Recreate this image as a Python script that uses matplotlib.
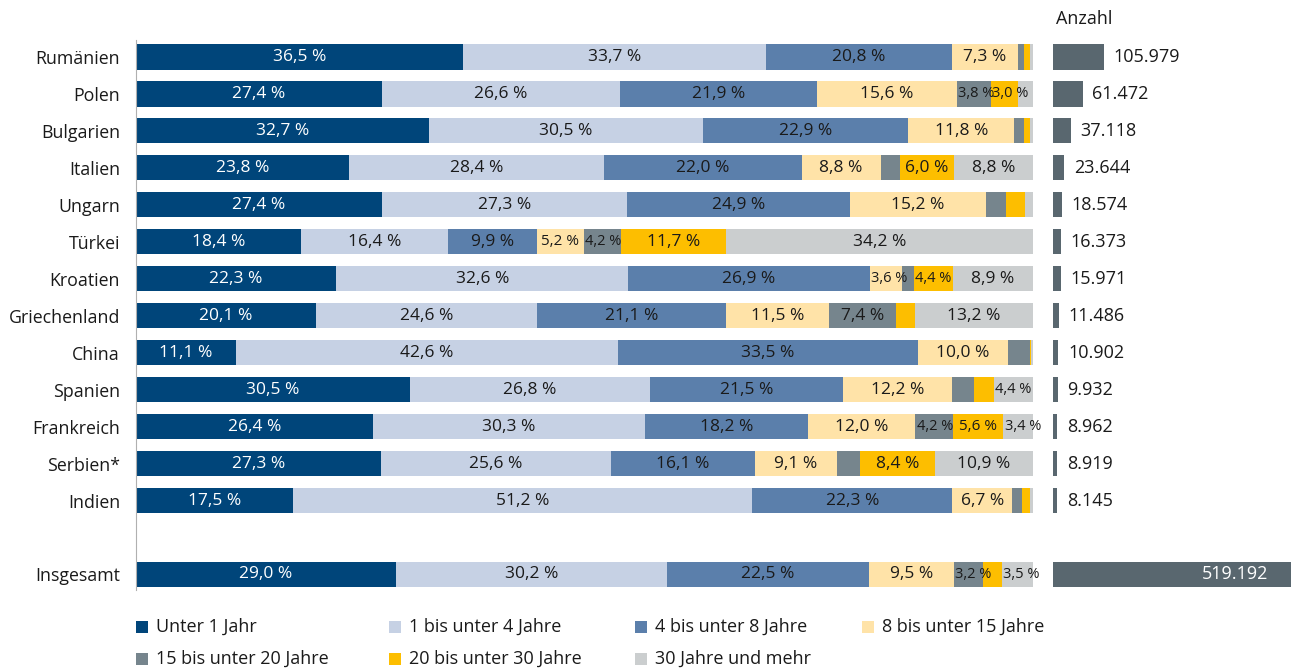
import matplotlib
matplotlib.use("Agg")
import matplotlib.pyplot as plt
from matplotlib.patches import Rectangle

plt.rcParams['font.family'] = ['Open Sans', 'DejaVu Sans']

# Countries (top to bottom) plus the overall total
countries = ["Rumänien", "Polen", "Bulgarien", "Italien", "Ungarn", "Türkei",
             "Kroatien", "Griechenland", "China", "Spanien", "Frankreich",
             "Serbien*", "Indien", "Insgesamt"]

# Share of residence duration groups in percent
unter_1 = [36.5, 27.4, 32.7, 23.8, 27.4, 18.4, 22.3, 20.1, 11.1, 30.5, 26.4, 27.3, 17.5, 29.0]
j1_4 = [33.7, 26.6, 30.5, 28.4, 27.3, 16.4, 32.6, 24.6, 42.6, 26.8, 30.3, 25.6, 51.2, 30.2]
j4_8 = [20.8, 21.9, 22.9, 22.0, 24.9, 9.9, 26.9, 21.1, 33.5, 21.5, 18.2, 16.1, 22.3, 22.5]
j8_15 = [7.3, 15.6, 11.8, 8.8, 15.2, 5.2, 3.6, 11.5, 10.0, 12.2, 12.0, 9.1, 6.7, 9.5]
j15_20 = [0.7, 3.8, 1.1, 2.2, 2.2, 4.2, 1.3, 7.4, 2.5, 2.4, 4.2, 2.6, 1.1, 3.2]
j20_30 = [0.7, 3.0, 0.7, 6.0, 2.1, 11.7, 4.4, 2.1, 0.1, 2.2, 5.6, 8.4, 0.9, 2.1]
j30_plus = [0.3, 1.7, 0.3, 8.8, 0.9, 34.2, 8.9, 13.2, 0.2, 4.4, 3.4, 10.9, 0.3, 3.5]

# Number of persons
anzahl = [105979, 61472, 37118, 23644, 18574, 16373, 15971, 11486, 10902,
          9932, 8962, 8919, 8145, 519192]

series_names = ["Unter 1 Jahr", "1 bis unter 4 Jahre", "4 bis unter 8 Jahre",
                "8 bis unter 15 Jahre", "15 bis unter 20 Jahre",
                "20 bis unter 30 Jahre", "30 Jahre und mehr"]
series = [unter_1, j1_4, j4_8, j8_15, j15_20, j20_30, j30_plus]
colors = ["#00457A", "#C6D1E4", "#5B7FAB", "#FFE3A8", "#76858D", "#FDBE00", "#CBCECF"]
text_colors = ["white", "#1a1a1a", "#1a1a1a", "#1a1a1a", "#1a1a1a", "#1a1a1a", "#1a1a1a"]
count_color = "#59676F"

W, H = 1291, 670
fig = plt.figure(figsize=(W / 100, H / 100), dpi=100)

# row positions: gap before the total row
ypos = list(range(13)) + [14]

def fx(px):
    return px / W

def fy(px):
    return 1 - px / H

top_px, bot_px = 40, 590
ax = fig.add_axes([fx(136), fy(bot_px), fx(1033) - fx(136), fy(top_px) - fy(bot_px)])
ax2 = fig.add_axes([fx(1053), fy(bot_px), fx(1291) - fx(1053), fy(top_px) - fy(bot_px)])

bar_h = 0.68
left = [0.0] * len(countries)
for vals, col, tcol in zip(series, colors, text_colors):
    ax.barh(ypos, vals, left=left, height=bar_h, color=col, linewidth=0)
    for y, l, v in zip(ypos, left, vals):
        if v >= 3.0:
            txt = f"{v:.1f}".replace(".", ",") + " %"
            if v < 4.5:
                # narrow segment: label starts at the segment's left edge
                ax.text(l + 0.15, y, txt, ha="left", va="center", color=tcol,
                        fontsize=10.5)
            else:
                fs = 11 if v < 6 else 12.5
                ax.text(l + v / 2, y, txt, ha="center", va="center",
                        color=tcol, fontsize=fs)
    left = [a + b for a, b in zip(left, vals)]

ax.set_xlim(0, 100)
ax.set_ylim(14.42, -0.46)
ax.set_xticks([])
ax.set_yticks(ypos)
ax.set_yticklabels(countries, fontsize=12.8, color="#1a1a1a")
ax.tick_params(axis="y", length=0, pad=11.5)
for s in ["top", "right", "bottom"]:
    ax.spines[s].set_visible(False)
ax.spines["left"].set_color("#b0b0b0")
ax.spines["left"].set_linewidth(0.8)

# count bars
ax2.barh(ypos, anzahl, height=bar_h, color=count_color, linewidth=0)
xmax = 238 * 105979 / 51
ax2.set_xlim(0, xmax)
ax2.set_ylim(14.42, -0.46)
ax2.axis("off")
for y, n in zip(ypos, anzahl):
    txt = f"{n:,}".replace(",", ".")
    if n > xmax:
        ax2.text(xmax * 0.905, y, txt, ha="right", va="center", color="white",
                 fontsize=13)
    else:
        ax2.annotate(txt, (n, y), xytext=(7, 0), textcoords="offset points",
                     ha="left", va="center", color="#1a1a1a", fontsize=13)

fig.text(fx(1056), fy(19), "Anzahl", ha="left", va="center", fontsize=13,
         color="#1a1a1a")

# legend
leg_x = [136, 389, 635, 862]
leg_y = [627, 659]
sq = 12
for i, (name, col) in enumerate(zip(series_names, colors)):
    r, c = divmod(i, 4)
    x0, y0 = leg_x[c], leg_y[r]
    fig.patches.append(Rectangle((fx(x0), fy(y0 + sq / 2)), sq / W, sq / H,
                                 transform=fig.transFigure, color=col,
                                 linewidth=0))
    fig.text(fx(x0 + 20), fy(y0), name, ha="left", va="center", fontsize=13,
             color="#1a1a1a")

fig.savefig("out.png", dpi=100, facecolor="white")
